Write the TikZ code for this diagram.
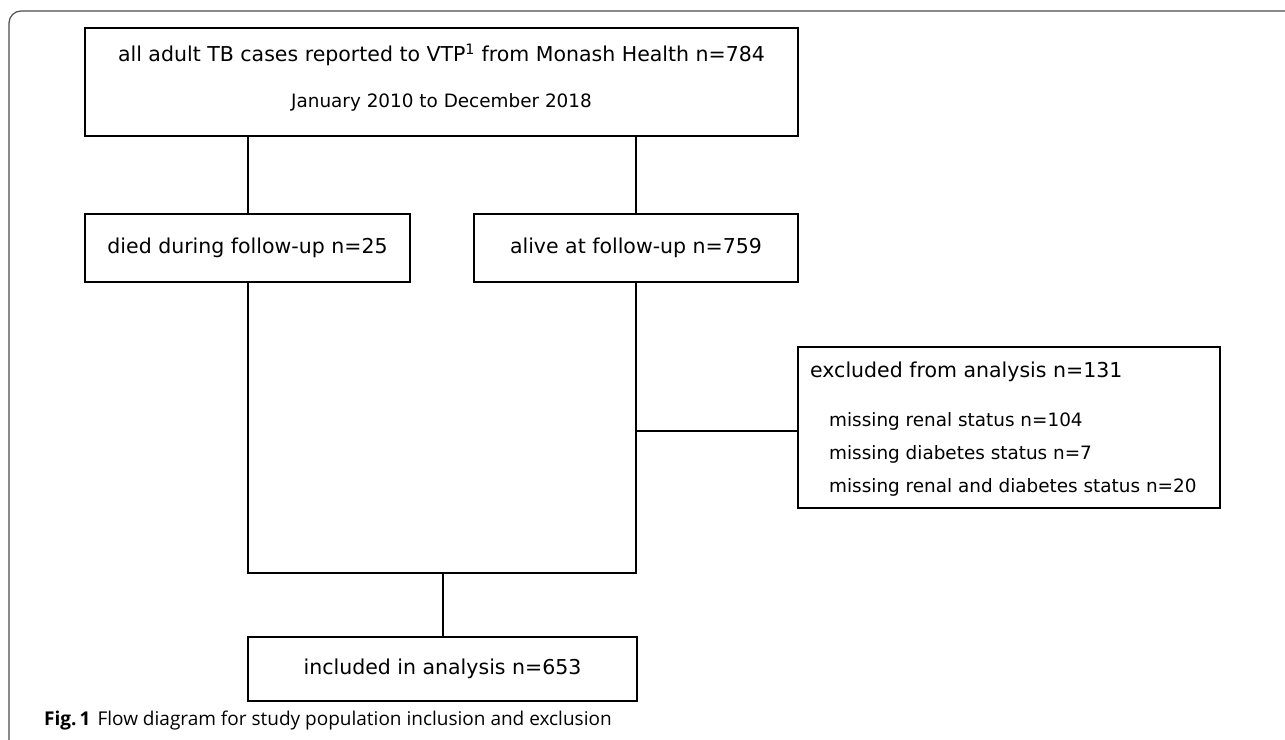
\documentclass[tikz,border=0pt]{standalone}
\usepackage{fontspec}
\setmainfont{DejaVu Sans}
\newfontfamily\capfont{Open Sans}
\usetikzlibrary{positioning}

\begin{document}
\begin{tikzpicture}[x=1pt,y=-1pt,
    box/.style={draw,line width=2pt,inner sep=0pt},
    txt/.style={inner sep=0pt,font=\fontsize{20.5}{24}\selectfont},
    item/.style={inner sep=0pt,font=\fontsize{18.4}{22}\selectfont},
    link/.style={line width=2pt}]

    \useasboundingbox (0,0) rectangle (1285,739);

    % Rahmen
    \draw[black!70,line width=1.2pt,rounded corners=12pt] (9,745) -- (9,11) -- (1292,11);

    % Kaesten
    \node[box,minimum width=713,minimum height=108] (all) at (441.5,82) {};
    \node[txt] (allA) at ([yshift=27pt]all.center) {all adult TB cases reported to VTP\textsuperscript{1} from Monash Health n=784};
    \node[item] (allB) at ([yshift=-20pt]all.center) {January 2010 to December 2018};

    \node[box,txt,minimum width=325,minimum height=68] (died) at (247.5,248) {died during follow-up n=25};
    \node[box,txt,minimum width=324,minimum height=68] (alive) at (636,248) {alive at follow-up n=759};

    \node[box,minimum width=422,minimum height=161] (excl) at (1009,427.5) {};
    \node[txt,anchor=west] (exclA) at ([xshift=13pt,yshift=-26pt]excl.north west) {excluded from analysis n=131};
    \foreach \t [count=\i] in {missing renal status n=104, missing diabetes status n=7,
        missing renal and diabetes status n=20}
    \node[item,anchor=west] (excl\i) at ([xshift=32pt,yshift={-42pt-33pt*\i}]excl.north west) {\t};

    \node[box,txt,minimum width=389,minimum height=64] (incl) at (442.5,669) {included in analysis n=653};

    % Verbindungen
    \coordinate (merge) at (442.5,573);
    \draw[link] (died.north) -- (died.north |- all.south);
    \draw[link] (alive.north) -- (alive.north |- all.south);
    \draw[link] (died.south) -- (died.south |- merge) -- (alive.south |- merge) -- (alive.south);
    \draw[link] (merge) -- (incl.north);
    \draw[link] ([yshift=-3pt]excl.west) -- ([yshift=-3pt]excl.west -| alive.south);

    % Legende
    \node[anchor=base west,inner sep=0pt,font=\capfont\fontsize{19}{22}\selectfont] (cap) at (44,725)
        {\textbf{Fig.\,1}\hspace{7pt}Flow diagram for study population inclusion and exclusion};

\end{tikzpicture}
\end{document}
